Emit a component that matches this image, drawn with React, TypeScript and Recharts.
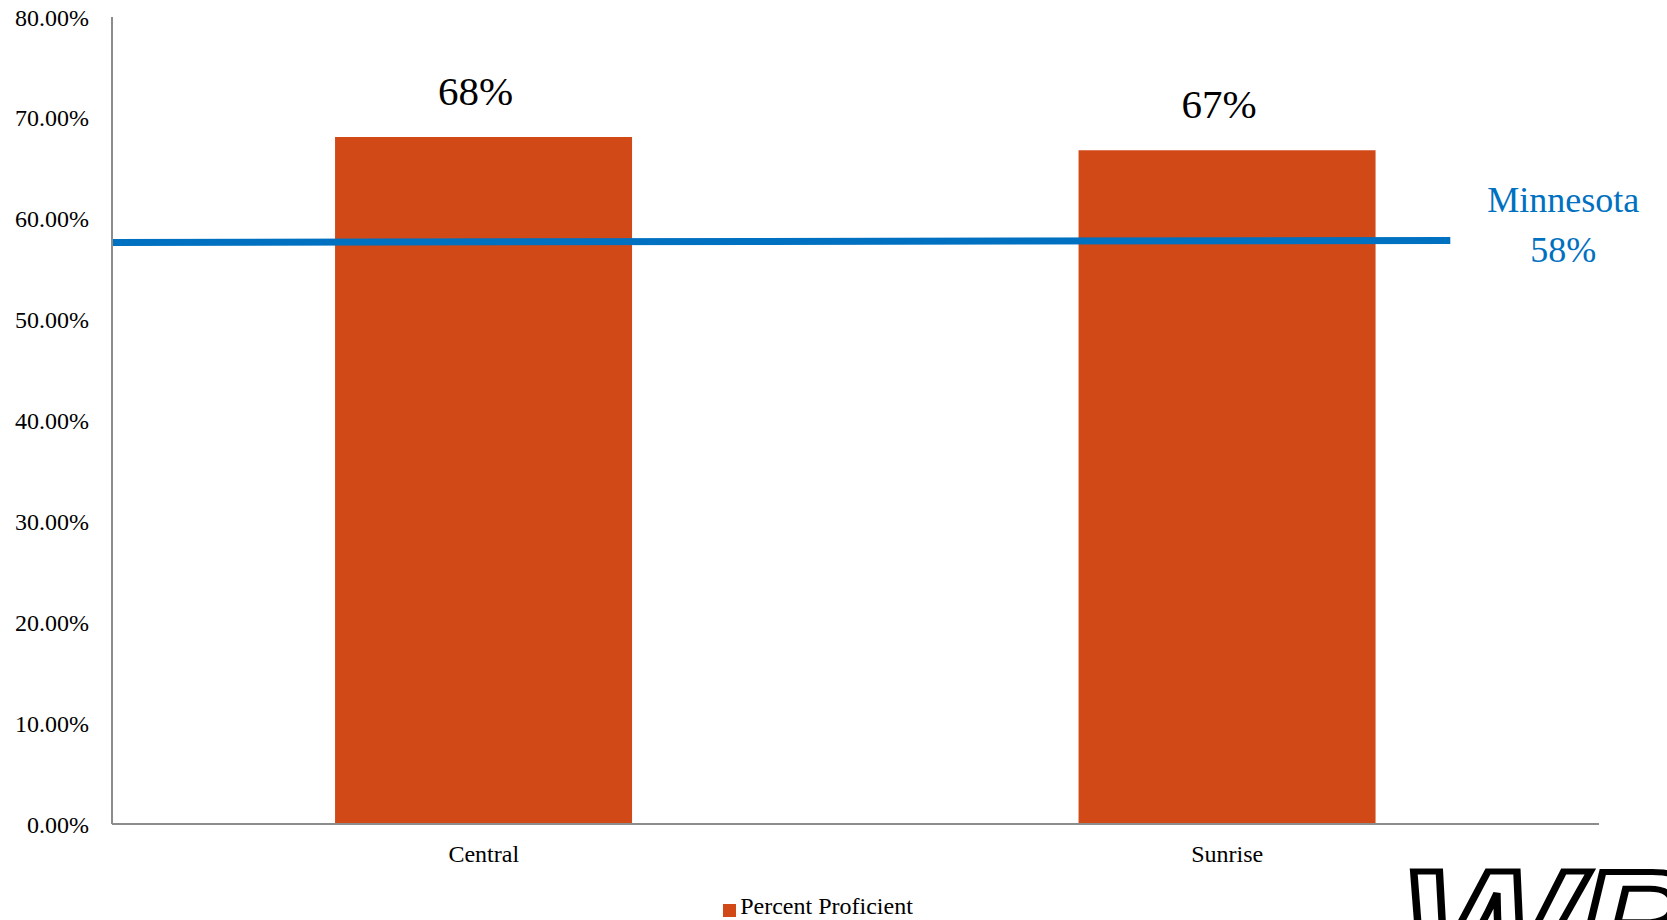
import React from 'react';
import { ComposedChart, Bar, Line, XAxis, YAxis, Legend, LabelList } from 'recharts';

const schools = ['Central', 'Sunrise'];
const percentProficient = [68.1, 66.8];
const yTicks = [0, 10, 20, 30, 40, 50, 60, 70, 80];

// statewide reference line, drawn on a hidden numeric x axis (0..2 = two category bands)
const stateX = [0, 1.8];
const stateY = [57.65, 57.85];
const stateLabel = ['Minnesota', '58%'];

const chartData = schools.map((school, i) => ({ school, proficient: percentProficient[i] }));
const lineData = stateX.map((x, i) => ({ x, y: stateY[i] }));

const FONT = '"Liberation Serif", "Times New Roman", serif';
const BAR_COLOR = '#D24918';
const STATE_COLOR = '#0070C0';
const AXIS_COLOR = '#8c8c8c';

function StateLabel(props: any) {
  const { x, y, value } = props;
  if (value !== stateY[stateY.length - 1]) return null;
  const cx = x + 113;
  return (
    <text x={cx} y={y} textAnchor="middle" fill={STATE_COLOR} fontSize={36} fontFamily={FONT}>
      <tspan x={cx} dy={-28}>{stateLabel[0]}</tspan>
      <tspan x={cx} dy={50}>{stateLabel[1]}</tspan>
    </text>
  );
}

export default function App() {
  return (
    <div
      style={{
        position: 'absolute',
        left: 0,
        top: 0,
        width: 1667,
        height: 920,
        overflow: 'hidden',
        background: '#fff',
        fontFamily: FONT,
      }}
    >
      <ComposedChart
        width={1667}
        height={920}
        data={chartData}
        margin={{ top: 17, right: 68, left: 0, bottom: 0 }}
        barCategoryGap="30%"
      >
        <XAxis
          xAxisId="cat"
          dataKey="school"
          axisLine={{ stroke: AXIS_COLOR, strokeWidth: 2 }}
          tickLine={false}
          tickSize={0}
          tickMargin={21}
          height={69}
          tick={{ fill: '#000', fontSize: 24, fontFamily: FONT }}
        />
        <XAxis xAxisId="num" type="number" dataKey="x" domain={[0, 2]} hide />
        <YAxis
          domain={[0, 80]}
          ticks={yTicks}
          interval={0}
          width={112}
          axisLine={{ stroke: AXIS_COLOR, strokeWidth: 2 }}
          tickLine={false}
          tickSize={0}
          tickMargin={23}
          tick={{ fill: '#000', fontSize: 24, fontFamily: FONT }}
          tickFormatter={(v: number) => `${v.toFixed(2)}%`}
        />
        <Legend
          verticalAlign="bottom"
          iconType="square"
          iconSize={13}
          wrapperStyle={{ left: 0, width: 1646, fontFamily: FONT }}
          formatter={(value: string) => (
            <span style={{ color: '#000', fontSize: 24, fontFamily: FONT }}>{value}</span>
          )}
        />
        <Bar
          xAxisId="cat"
          dataKey="proficient"
          name="Percent Proficient"
          fill={BAR_COLOR}
          isAnimationActive={false}
        >
          <LabelList
            dataKey="proficient"
            position="top"
            offset={32}
            dx={-8}
            fill="#000"
            fontSize={41}
            fontFamily={FONT}
            formatter={(v: any) => `${Math.round(Number(v))}%`}
          />
        </Bar>
        <Line
          xAxisId="num"
          data={lineData}
          dataKey="y"
          stroke={STATE_COLOR}
          strokeWidth={7}
          dot={false}
          activeDot={false}
          legendType="none"
          isAnimationActive={false}
        >
          <LabelList dataKey="y" content={StateLabel} />
        </Line>
      </ComposedChart>
      <div
        style={{
          position: 'absolute',
          left: 1400,
          top: 848,
          fontFamily: '"Liberation Sans", Arial, sans-serif',
          fontWeight: 'bold',
          fontStyle: 'italic',
          fontSize: 150,
          lineHeight: 1,
          color: 'transparent',
          WebkitTextStroke: '6px #000',
          letterSpacing: -2,
          whiteSpace: 'nowrap',
          transform: 'scaleX(1.25)',
          transformOrigin: 'left top',
        }}
      >
        WP
      </div>
    </div>
  );
}
